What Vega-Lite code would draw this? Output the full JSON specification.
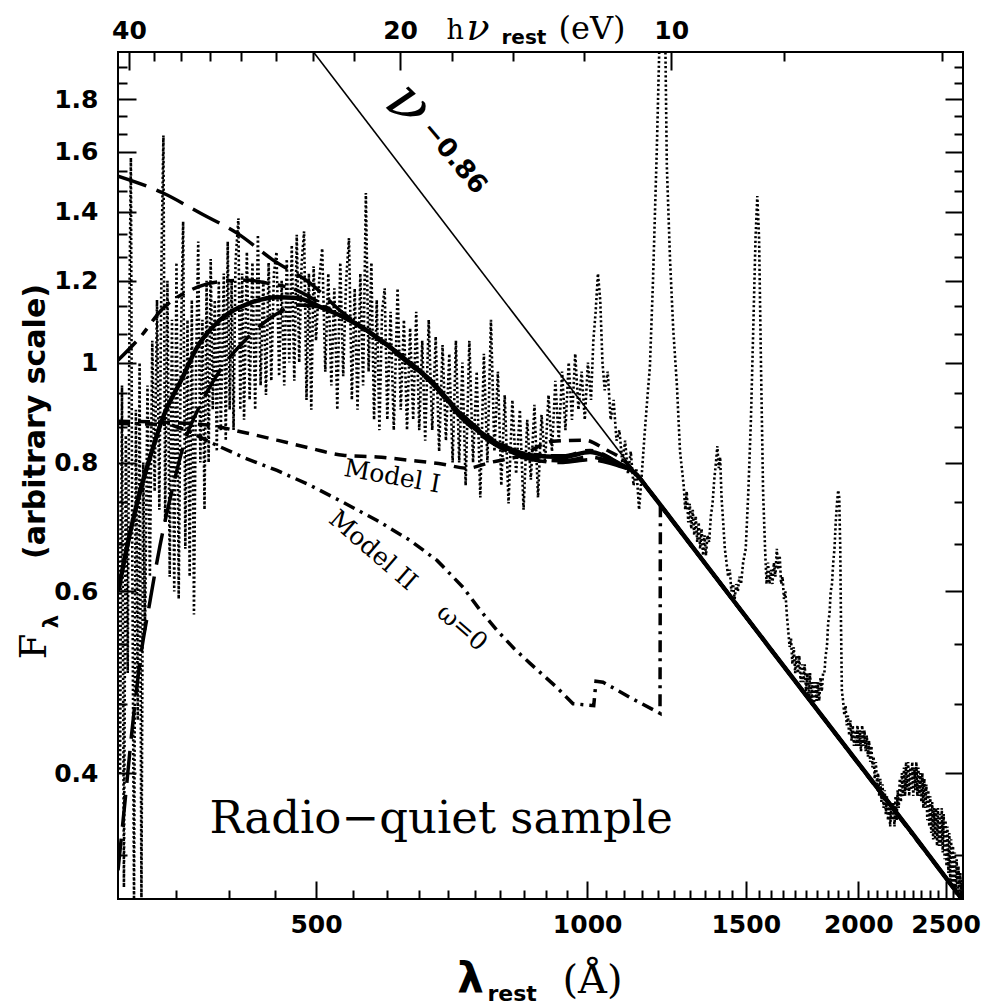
{
"$schema": "https://vega.github.io/schema/vega-lite/v6.json",
"width": 845, "height": 847,
"autosize": {"type": "none"},
"padding": {"left": 118, "top": 52, "right": 20, "bottom": 107},
"background": "white",
"config": {
  "view": {"stroke": "black", "strokeWidth": 2},
  "axis": {"grid": false, "domain": false, "tickColor": "black", "tickWidth": 2, "labelColor": "black", "titleColor": "black", "labelFont": "DejaVu Sans", "labelFontWeight": "bold", "labelFontSize": 25, "labelFlush": false, "labelOverlap": false}
},
"datasets": {
"obs": [
{"wl":301.5,"flux":0.75},{"wl":303,"flux":0.40},{"wl":304.5,"flux":0.95},{"wl":306,"flux":0.31},{"wl":307.5,"flux":0.85},{"wl":309,"flux":0.50},{"wl":310.5,"flux":1.20},{"wl":311.5,"flux":1.58},{"wl":312.5,"flux":0.70},{"wl":314,"flux":0.30},{"wl":315.5,"flux":0.90},{"wl":317,"flux":0.45},{"wl":318.5,"flux":1.00},{"wl":320,"flux":0.30},{"wl":321.5,"flux":0.80},{"wl":323,"flux":0.55},{"wl":325,"flux":0.95},{"wl":327,"flux":0.62},{"wl":329,"flux":1.05},
{"wl":331,"flux":0.75},{"wl":333,"flux":1.15},{"wl":335,"flux":0.72},{"wl":337,"flux":1.30},{"wl":338.5,"flux":1.66},{"wl":340,"flux":0.70},{"wl":342,"flux":1.20},{"wl":344,"flux":0.62},{"wl":346,"flux":1.10},{"wl":348,"flux":0.60},{"wl":350,"flux":1.25},{"wl":352,"flux":0.59},{"wl":354,"flux":1.05},{"wl":356,"flux":1.37},{"wl":358,"flux":0.66},{"wl":360,"flux":1.10},{"wl":362,"flux":0.62},{"wl":364,"flux":1.15},{"wl":366,"flux":0.57},{"wl":368,"flux":1.00},{"wl":370,"flux":1.31},{"wl":372,"flux":0.80},{"wl":374,"flux":1.10},{"wl":376,"flux":0.72},{"wl":378,"flux":1.20},{"wl":380,"flux":0.80},{"wl":382,"flux":1.26},{"wl":384,"flux":0.90},{"wl":386,"flux":1.15},{"wl":388,"flux":0.82},{"wl":390,"flux":1.20},{"wl":392,"flux":0.86},{"wl":395,"flux":1.22},{"wl":397,"flux":0.84},{"wl":399,"flux":1.31},{"wl":401,"flux":0.90},{"wl":403,"flux":1.20},{"wl":405,"flux":0.86},{"wl":407,"flux":1.25},{"wl":410,"flux":1.38},{"wl":412,"flux":0.90},{"wl":414,"flux":1.22},{"wl":416,"flux":0.88},{"wl":419,"flux":1.28},{"wl":422,"flux":0.92},{"wl":425,"flux":1.25},{"wl":428,"flux":0.90},{"wl":431,"flux":1.33},{"wl":434,"flux":0.95},{"wl":437,"flux":1.20},{"wl":440,"flux":0.93},{"wl":443,"flux":1.25},{"wl":446,"flux":0.96},{"wl":449,"flux":1.22},{"wl":452,"flux":1.28},{"wl":455,"flux":0.97},{"wl":458,"flux":1.20},{"wl":461,"flux":0.95},{"wl":464,"flux":1.26},{"wl":467,"flux":1.00},{"wl":470,"flux":1.30},{"wl":473,"flux":0.96},{"wl":476,"flux":1.33},{"wl":479,"flux":1.00},{"wl":482,"flux":1.25},{"wl":485,"flux":1.34},{"wl":488,"flux":0.92},{"wl":491,"flux":1.22},{"wl":494,"flux":0.90},{"wl":497,"flux":1.24},
{"wl":500,"flux":1.05},{"wl":504,"flux":1.20},{"wl":508,"flux":1.29},{"wl":512,"flux":0.98},{"wl":516,"flux":1.22},{"wl":520,"flux":0.95},{"wl":524,"flux":1.18},{"wl":528,"flux":0.90},{"wl":532,"flux":1.25},{"wl":536,"flux":0.97},{"wl":540,"flux":1.20},{"wl":544,"flux":1.32},{"wl":548,"flux":0.92},{"wl":552,"flux":1.18},{"wl":556,"flux":0.90},{"wl":560,"flux":1.22},{"wl":564,"flux":0.95},{"wl":568,"flux":1.46},{"wl":572,"flux":0.98},{"wl":576,"flux":1.25},{"wl":580,"flux":0.88},{"wl":584,"flux":1.15},{"wl":588,"flux":0.86},{"wl":592,"flux":1.12},{"wl":596,"flux":1.18},{"wl":600,"flux":0.88},{"wl":605,"flux":1.12},{"wl":610,"flux":0.86},{"wl":616,"flux":1.18},{"wl":621,"flux":0.90},{"wl":626,"flux":1.10},{"wl":631,"flux":0.86},{"wl":636,"flux":1.08},{"wl":641,"flux":0.88},{"wl":646,"flux":1.12},{"wl":651,"flux":0.86},{"wl":656,"flux":1.05},{"wl":661,"flux":0.84},{"wl":667,"flux":1.10},{"wl":673,"flux":0.86},{"wl":679,"flux":1.06},{"wl":685,"flux":0.82},{"wl":691,"flux":1.04},{"wl":697,"flux":0.84},{"wl":703,"flux":1.02},{"wl":709,"flux":0.80},{"wl":715,"flux":1.05},{"wl":721,"flux":0.80},{"wl":727,"flux":1.00},{"wl":733,"flux":0.76},{"wl":740,"flux":1.05},{"wl":747,"flux":0.80},{"wl":754,"flux":0.98},{"wl":761,"flux":0.74},{"wl":768,"flux":1.02},{"wl":775,"flux":0.80},{"wl":782,"flux":1.10},{"wl":789,"flux":0.82},{"wl":796,"flux":0.98},{"wl":803,"flux":0.76},{"wl":810,"flux":0.93},{"wl":818,"flux":0.73},{"wl":826,"flux":0.92},{"wl":834,"flux":0.78},{"wl":842,"flux":0.90},{"wl":850,"flux":0.72},{"wl":858,"flux":0.88},{"wl":866,"flux":0.77},{"wl":874,"flux":0.91},{"wl":882,"flux":0.74},{"wl":890,"flux":0.89},{"wl":898,"flux":0.80},{"wl":906,"flux":0.93},{"wl":914,"flux":0.82},{"wl":922,"flux":0.96},{"wl":930,"flux":0.84},{"wl":938,"flux":0.98},{"wl":946,"flux":0.86},{"wl":954,"flux":1.00},{"wl":962,"flux":0.88},{"wl":970,"flux":1.02},{"wl":978,"flux":0.90},{"wl":986,"flux":0.98},{"wl":994,"flux":0.88},
{"wl":1002,"flux":1.00},{"wl":1010,"flux":0.92},{"wl":1016,"flux":1.05},{"wl":1022,"flux":1.12},{"wl":1028,"flux":1.22},{"wl":1034,"flux":1.15},{"wl":1040,"flux":1.00},{"wl":1046,"flux":0.94},{"wl":1054,"flux":0.98},{"wl":1062,"flux":0.88},{"wl":1070,"flux":0.92},{"wl":1078,"flux":0.84},{"wl":1086,"flux":0.86},{"wl":1094,"flux":0.80},{"wl":1102,"flux":0.84},{"wl":1110,"flux":0.78},{"wl":1118,"flux":0.82},{"wl":1126,"flux":0.76},{"wl":1134,"flux":0.79},{"wl":1142,"flux":0.72},{"wl":1150,"flux":0.78},{"wl":1158,"flux":0.85},{"wl":1166,"flux":0.92},{"wl":1174,"flux":0.99},{"wl":1183,"flux":1.19},{"wl":1195,"flux":1.61},{"wl":1204,"flux":2.10},{"wl":1212,"flux":2.50},{"wl":1220,"flux":2.20},{"wl":1226,"flux":1.55},{"wl":1236,"flux":1.26},{"wl":1246,"flux":1.08},{"wl":1258,"flux":0.95},{"wl":1268,"flux":0.82},
{"wl":1280,"flux":0.76},{"wl":1285,"flux":0.72},{"wl":1290,"flux":0.75},{"wl":1295,"flux":0.70},{"wl":1300,"flux":0.73},{"wl":1305,"flux":0.69},{"wl":1310,"flux":0.72},{"wl":1315,"flux":0.68},{"wl":1320,"flux":0.71},{"wl":1325,"flux":0.67},{"wl":1330,"flux":0.70},{"wl":1335,"flux":0.66},{"wl":1340,"flux":0.69},{"wl":1345,"flux":0.65},{"wl":1350,"flux":0.68},{"wl":1355,"flux":0.65},{"wl":1360,"flux":0.68},{"wl":1366,"flux":0.67},{"wl":1372,"flux":0.71},{"wl":1378,"flux":0.73},{"wl":1384,"flux":0.77},{"wl":1390,"flux":0.80},{"wl":1395,"flux":0.83},{"wl":1400,"flux":0.79},{"wl":1405,"flux":0.81},{"wl":1410,"flux":0.74},{"wl":1416,"flux":0.70},{"wl":1422,"flux":0.66},{"wl":1428,"flux":0.64},{"wl":1434,"flux":0.62},{"wl":1440,"flux":0.63},{"wl":1446,"flux":0.60},{"wl":1452,"flux":0.61},{"wl":1458,"flux":0.59},{"wl":1464,"flux":0.61},{"wl":1470,"flux":0.60},{"wl":1476,"flux":0.62},{"wl":1482,"flux":0.61},{"wl":1490,"flux":0.64},{"wl":1500,"flux":0.66},{"wl":1510,"flux":0.75},{"wl":1520,"flux":0.88},{"wl":1530,"flux":1.10},{"wl":1538,"flux":1.32},{"wl":1545,"flux":1.45},{"wl":1552,"flux":1.32},{"wl":1560,"flux":0.98},{"wl":1568,"flux":0.75},{"wl":1576,"flux":0.66},{"wl":1582,"flux":0.61},{"wl":1588,"flux":0.64},{"wl":1594,"flux":0.61},{"wl":1600,"flux":0.63},{"wl":1606,"flux":0.61},{"wl":1612,"flux":0.64},{"wl":1618,"flux":0.62},{"wl":1624,"flux":0.66},{"wl":1630,"flux":0.63},{"wl":1636,"flux":0.65},{"wl":1642,"flux":0.61},{"wl":1648,"flux":0.62},{"wl":1654,"flux":0.59},{"wl":1660,"flux":0.60},{"wl":1666,"flux":0.57},{"wl":1672,"flux":0.55},{"wl":1678,"flux":0.53},{"wl":1684,"flux":0.54},{"wl":1690,"flux":0.51},{"wl":1696,"flux":0.53},{"wl":1702,"flux":0.50},{"wl":1708,"flux":0.52},{"wl":1714,"flux":0.50},{"wl":1720,"flux":0.52},{"wl":1726,"flux":0.49},{"wl":1732,"flux":0.51},{"wl":1738,"flux":0.49},{"wl":1744,"flux":0.51},{"wl":1750,"flux":0.48},{"wl":1756,"flux":0.50},{"wl":1762,"flux":0.47},{"wl":1768,"flux":0.50},{"wl":1774,"flux":0.47},{"wl":1780,"flux":0.49},{"wl":1786,"flux":0.465},{"wl":1792,"flux":0.49},{"wl":1798,"flux":0.47},{"wl":1804,"flux":0.49},{"wl":1810,"flux":0.47},{"wl":1816,"flux":0.495},{"wl":1822,"flux":0.48},{"wl":1828,"flux":0.50},{"wl":1834,"flux":0.50},{"wl":1840,"flux":0.52},{"wl":1846,"flux":0.53},{"wl":1852,"flux":0.56},{"wl":1858,"flux":0.57},{"wl":1864,"flux":0.60},{"wl":1870,"flux":0.61},{"wl":1876,"flux":0.64},{"wl":1882,"flux":0.66},{"wl":1888,"flux":0.70},{"wl":1894,"flux":0.73},{"wl":1900,"flux":0.752},{"wl":1905,"flux":0.74},{"wl":1910,"flux":0.66},{"wl":1914,"flux":0.55},{"wl":1918,"flux":0.48},{"wl":1924,"flux":0.47},{"wl":1930,"flux":0.455},{"wl":1936,"flux":0.465},{"wl":1942,"flux":0.445},{"wl":1948,"flux":0.455},{"wl":1954,"flux":0.435},{"wl":1960,"flux":0.45},{"wl":1966,"flux":0.43},{"wl":1972,"flux":0.445},{"wl":1978,"flux":0.425},{"wl":1984,"flux":0.44},{"wl":1990,"flux":0.425},{"wl":1996,"flux":0.445},{"wl":2002,"flux":0.425},{"wl":2008,"flux":0.44},{"wl":2014,"flux":0.42},{"wl":2020,"flux":0.445},{"wl":2026,"flux":0.425},{"wl":2032,"flux":0.44},{"wl":2038,"flux":0.42},{"wl":2044,"flux":0.435},{"wl":2050,"flux":0.415},{"wl":2056,"flux":0.43},{"wl":2062,"flux":0.41},{"wl":2068,"flux":0.425},{"wl":2074,"flux":0.405},{"wl":2080,"flux":0.415},{"wl":2086,"flux":0.395},{"wl":2092,"flux":0.41},{"wl":2098,"flux":0.39},{"wl":2104,"flux":0.40},{"wl":2110,"flux":0.38},{"wl":2116,"flux":0.395},{"wl":2122,"flux":0.375},{"wl":2128,"flux":0.39},{"wl":2134,"flux":0.37},{"wl":2140,"flux":0.385},{"wl":2146,"flux":0.365},{"wl":2152,"flux":0.38},{"wl":2158,"flux":0.36},{"wl":2164,"flux":0.375},{"wl":2170,"flux":0.355},{"wl":2176,"flux":0.37},{"wl":2182,"flux":0.36},{"wl":2188,"flux":0.375},{"wl":2194,"flux":0.355},{"wl":2200,"flux":0.38},{"wl":2206,"flux":0.36},{"wl":2212,"flux":0.385},{"wl":2218,"flux":0.37},{"wl":2224,"flux":0.395},{"wl":2230,"flux":0.375},{"wl":2236,"flux":0.40},{"wl":2242,"flux":0.38},{"wl":2248,"flux":0.405},{"wl":2254,"flux":0.38},{"wl":2260,"flux":0.41},{"wl":2266,"flux":0.385},{"wl":2272,"flux":0.41},{"wl":2278,"flux":0.38},{"wl":2284,"flux":0.405},{"wl":2290,"flux":0.385},{"wl":2296,"flux":0.41},{"wl":2302,"flux":0.38},{"wl":2308,"flux":0.405},{"wl":2314,"flux":0.385},{"wl":2320,"flux":0.41},{"wl":2326,"flux":0.38},{"wl":2332,"flux":0.405},{"wl":2338,"flux":0.38},{"wl":2344,"flux":0.40},{"wl":2350,"flux":0.375},{"wl":2356,"flux":0.40},{"wl":2362,"flux":0.37},{"wl":2368,"flux":0.395},{"wl":2374,"flux":0.37},{"wl":2380,"flux":0.39},{"wl":2386,"flux":0.36},{"wl":2392,"flux":0.385},{"wl":2398,"flux":0.355},{"wl":2404,"flux":0.38},{"wl":2410,"flux":0.35},{"wl":2416,"flux":0.375},{"wl":2422,"flux":0.345},{"wl":2428,"flux":0.37},{"wl":2434,"flux":0.345},{"wl":2440,"flux":0.37},{"wl":2446,"flux":0.34},{"wl":2452,"flux":0.37},{"wl":2458,"flux":0.34},{"wl":2464,"flux":0.365},{"wl":2470,"flux":0.34},{"wl":2476,"flux":0.37},{"wl":2482,"flux":0.335},{"wl":2488,"flux":0.365},{"wl":2494,"flux":0.33},{"wl":2500,"flux":0.36},{"wl":2506,"flux":0.325},{"wl":2512,"flux":0.355},{"wl":2518,"flux":0.32},{"wl":2524,"flux":0.35},{"wl":2530,"flux":0.315},{"wl":2536,"flux":0.345},{"wl":2542,"flux":0.31},{"wl":2548,"flux":0.34},{"wl":2554,"flux":0.31},{"wl":2560,"flux":0.335},{"wl":2566,"flux":0.305},{"wl":2572,"flux":0.33},{"wl":2578,"flux":0.305},{"wl":2584,"flux":0.325},{"wl":2590,"flux":0.30},{"wl":2596,"flux":0.32},{"wl":2602,"flux":0.30},{"wl":2608,"flux":0.315},{"wl":2613,"flux":0.30}
],
"fit": [
{"wl":301.4,"flux":0.600},{"wl":306,"flux":0.64},{"wl":311,"flux":0.685},{"wl":318.9,"flux":0.75},{"wl":327.2,"flux":0.81},{"wl":338.2,"flux":0.885},{"wl":355.0,"flux":0.965},{"wl":369.0,"flux":1.035},{"wl":391.3,"flux":1.10},{"wl":422.4,"flux":1.142},{"wl":452.6,"flux":1.157},{"wl":476.3,"flux":1.155},{"wl":509.1,"flux":1.129},{"wl":545.5,"flux":1.099},{"wl":584.5,"flux":1.058},{"wl":635.8,"flux":0.999},{"wl":669.2,"flux":0.962},{"wl":728.2,"flux":0.886},{"wl":794.3,"flux":0.835},{"wl":864.3,"flux":0.813},{"wl":940.3,"flux":0.810},{"wl":1007.5,"flux":0.819},{"wl":1041.5,"flux":0.813},{"wl":1079.5,"flux":0.800},{"wl":1136,"flux":0.778},{"wl":1170,"flux":0.753},{"wl":1300,"flux":0.668},{"wl":1600,"flux":0.527},{"wl":2000,"flux":0.409},{"wl":2300,"flux":0.349},{"wl":2614,"flux":0.301}
],
"dashU": [
{"wl":301.4,"flux":1.516},{"wl":338.2,"flux":1.46},{"wl":371.8,"flux":1.396},{"wl":408.6,"flux":1.335},{"wl":448.1,"flux":1.257},{"wl":492.5,"flux":1.194},{"wl":535.8,"flux":1.117},{"wl":560,"flux":1.085},{"wl":584.5,"flux":1.055},{"wl":635.8,"flux":0.995},{"wl":669.2,"flux":0.958},{"wl":728.2,"flux":0.88},{"wl":794.3,"flux":0.83},{"wl":864.3,"flux":0.806},{"wl":940.3,"flux":0.80},{"wl":1007.5,"flux":0.805},{"wl":1041.5,"flux":0.802},{"wl":1079.5,"flux":0.795},{"wl":1136,"flux":0.778},{"wl":1170,"flux":0.753},{"wl":1300,"flux":0.668},{"wl":1600,"flux":0.527},{"wl":2000,"flux":0.409},{"wl":2300,"flux":0.349},{"wl":2614,"flux":0.301}
],
"dashD": [
{"wl":301.4,"flux":1.005},{"wl":318.9,"flux":1.058},{"wl":338.2,"flux":1.129},{"wl":362.4,"flux":1.175},{"wl":388.3,"flux":1.197},{"wl":419.2,"flux":1.202},{"wl":441.2,"flux":1.194},{"wl":476.3,"flux":1.175},{"wl":505.2,"flux":1.142},{"wl":530,"flux":1.112},{"wl":545.5,"flux":1.099},{"wl":584.5,"flux":1.058},{"wl":635.8,"flux":1.0},{"wl":669.2,"flux":0.963},{"wl":728.2,"flux":0.889},{"wl":794.3,"flux":0.838},{"wl":864.3,"flux":0.815},{"wl":940.3,"flux":0.812},{"wl":1007.5,"flux":0.822},{"wl":1041.5,"flux":0.815},{"wl":1079.5,"flux":0.80},{"wl":1136,"flux":0.778},{"wl":1170,"flux":0.753},{"wl":1300,"flux":0.668},{"wl":1600,"flux":0.527},{"wl":2000,"flux":0.409},{"wl":2300,"flux":0.349},{"wl":2614,"flux":0.301}
],
"dashL": [
{"wl":301.4,"flux":0.322},{"wl":306.9,"flux":0.376},{"wl":312.4,"flux":0.44},{"wl":318.9,"flux":0.514},{"wl":327.2,"flux":0.588},{"wl":335.6,"flux":0.665},{"wl":346.1,"flux":0.752},{"wl":357.8,"flux":0.841},{"wl":371.8,"flux":0.909},{"wl":391.3,"flux":0.983},{"wl":417.1,"flux":1.051},{"wl":444.5,"flux":1.104},{"wl":480,"flux":1.137},{"wl":509.1,"flux":1.13},{"wl":545.5,"flux":1.097},{"wl":584.5,"flux":1.056},{"wl":635.8,"flux":0.997},{"wl":669.2,"flux":0.96},{"wl":728.2,"flux":0.883},{"wl":794.3,"flux":0.832},{"wl":864.3,"flux":0.808},{"wl":940.3,"flux":0.803},{"wl":1007.5,"flux":0.81},{"wl":1041.5,"flux":0.806},{"wl":1079.5,"flux":0.797},{"wl":1136,"flux":0.778},{"wl":1170,"flux":0.753},{"wl":1300,"flux":0.668},{"wl":1600,"flux":0.527},{"wl":2000,"flux":0.409},{"wl":2300,"flux":0.349},{"wl":2614,"flux":0.301}
],
"m1": [
{"wl":301.4,"flux":0.877},{"wl":340,"flux":0.875},{"wl":381.4,"flux":0.869},{"wl":414.9,"flux":0.856},{"wl":452.6,"flux":0.841},{"wl":492.5,"flux":0.826},{"wl":535.8,"flux":0.813},{"wl":584.5,"flux":0.81},{"wl":635.8,"flux":0.804},{"wl":691.9,"flux":0.797},{"wl":735.6,"flux":0.79},{"wl":780.2,"flux":0.80},{"wl":842.5,"flux":0.812},{"wl":916.6,"flux":0.839},{"wl":994.7,"flux":0.841},{"wl":1046.9,"flux":0.824},{"wl":1096,"flux":0.805},{"wl":1136,"flux":0.778},{"wl":1170,"flux":0.753},{"wl":1300,"flux":0.668},{"wl":1600,"flux":0.527},{"wl":2000,"flux":0.409},{"wl":2300,"flux":0.349},{"wl":2614,"flux":0.301}
],
"m2": [
{"wl":301.4,"flux":0.873},{"wl":344.4,"flux":0.871},{"wl":362,"flux":0.857},{"wl":381.4,"flux":0.837},{"wl":414.9,"flux":0.8095},{"wl":452.6,"flux":0.786},{"wl":492.5,"flux":0.7605},{"wl":535.8,"flux":0.732},{"wl":584.5,"flux":0.703},{"wl":635.8,"flux":0.6725},{"wl":681.3,"flux":0.643},{"wl":728.2,"flux":0.6055},{"wl":760,"flux":0.576},{"wl":794.3,"flux":0.55},{"wl":830,"flux":0.528},{"wl":864.3,"flux":0.511},{"wl":926,"flux":0.484},{"wl":964.6,"flux":0.467},{"wl":1017,"flux":0.465},{"wl":1023,"flux":0.491},{"wl":1041.5,"flux":0.49},{"wl":1115.9,"flux":0.4735},{"wl":1204.8,"flux":0.457},{"wl":1206,"flux":0.727},{"wl":2614,"flux":0.301}
],
"pl": [{"wl":480,"flux":2.08},{"wl":2614,"flux":0.301}]
},
"resolve": {"axis": {"x": "independent", "y": "independent"}},
"layer": [
{
 "data": {"name": "obs"},
 "mark": {"type": "line", "clip": true, "color": "black", "strokeWidth": 2.6, "strokeDash": [2.2, 2.4]},
 "encoding": {
  "x": {"field": "wl", "type": "quantitative", "scale": {"type": "log", "domain": [301.4, 2614], "nice": false},
        "axis": {"orient": "bottom", "values": [500, 1000, 1500, 2000, 2500], "format": "d", "tickSize": -18, "labelPadding": 31, "title": null}},
  "y": {"field": "flux", "type": "quantitative", "scale": {"type": "log", "domain": [0.302, 2.0], "nice": false},
        "axis": {"orient": "left", "values": [0.4, 0.6, 0.8, 1, 1.2, 1.4, 1.6, 1.8], "format": "~g", "tickSize": -18, "labelPadding": 38, "title": null}}
 }
},
{
 "data": {"name": "pl"},
 "mark": {"type": "line", "clip": true, "color": "black", "strokeWidth": 1.6},
 "encoding": {
  "x": {"field": "wl", "type": "quantitative", "scale": {"type": "log", "domain": [301.4, 2614], "nice": false},
        "axis": {"orient": "top", "ticks": false, "labels": false, "title": "h", "titleX": 328, "titleY": -14, "titleAlign": "left", "titleBaseline": "alphabetic", "titleFont": "DejaVu Serif", "titleFontWeight": "normal", "titleFontSize": 27, "titleAngle": 0}},
  "y": {"field": "flux", "type": "quantitative", "scale": {"type": "log", "domain": [0.302, 2.0], "nice": false}, "axis": null}
 }
},
{
 "data": {"name": "m1"},
 "mark": {"type": "line", "clip": true, "color": "black", "strokeWidth": 3.5, "strokeDash": [12, 8], "interpolate": "monotone"},
 "encoding": {
  "x": {"field": "wl", "type": "quantitative", "scale": {"type": "log", "domain": [301.4, 2614], "nice": false},
        "axis": {"orient": "bottom", "ticks": false, "labels": false, "title": "rest", "titleX": 369, "titleY": 101, "titleAlign": "left", "titleBaseline": "alphabetic", "titleFont": "DejaVu Sans", "titleFontWeight": "bold", "titleFontSize": 22, "titleAngle": 0}},
  "y": {"field": "flux", "type": "quantitative", "scale": {"type": "log", "domain": [0.302, 2.0], "nice": false},
        "axis": {"orient": "left", "ticks": false, "labels": false, "title": "λ", "titleX": -61, "titleY": 569, "titleAlign": "center", "titleBaseline": "alphabetic", "titleFont": "DejaVu Sans", "titleFontWeight": "bold", "titleFontSize": 21, "titleAngle": 270}}
 }
},
{
 "data": {"name": "m2"},
 "mark": {"type": "line", "clip": true, "color": "black", "strokeWidth": 3.5, "strokeDash": [12, 6, 3, 6]},
 "encoding": {
  "x": {"field": "wl", "type": "quantitative", "scale": {"type": "log", "domain": [301.4, 2614], "nice": false},
        "axis": {"orient": "bottom", "ticks": false, "labels": false, "title": "(Å)", "titleX": 444, "titleY": 93, "titleAlign": "left", "titleBaseline": "alphabetic", "titleFont": "DejaVu Serif", "titleFontWeight": "normal", "titleFontSize": 40, "titleAngle": 0}},
  "y": {"field": "flux", "type": "quantitative", "scale": {"type": "log", "domain": [0.302, 2.0], "nice": false},
        "axis": {"orient": "left", "ticks": false, "labels": false, "title": "(arbitrary scale)", "titleX": -74, "titleY": 369, "titleAlign": "center", "titleBaseline": "alphabetic", "titleFont": "DejaVu Sans", "titleFontWeight": "bold", "titleFontSize": 30, "titleAngle": 270}}
 }
},
{
 "data": {"name": "dashU"},
 "mark": {"type": "line", "clip": true, "color": "black", "strokeWidth": 3.5, "strokeDash": [30, 11], "interpolate": "monotone"},
 "encoding": {
  "x": {"field": "wl", "type": "quantitative", "scale": {"type": "log", "domain": [301.4, 2614], "nice": false},
        "axis": {"orient": "top", "values": [309.96, 619.92, 1239.84], "labelExpr": "datum.value < 400 ? '40' : (datum.value < 900 ? '20' : '10')", "tickSize": -18, "labelPadding": 27, "title": null}},
  "y": {"field": "flux", "type": "quantitative", "scale": {"type": "log", "domain": [0.302, 2.0], "nice": false},
        "axis": {"orient": "right", "values": [0.4, 0.6, 0.8, 1, 1.2, 1.4, 1.6, 1.8], "tickSize": -18, "labels": false, "title": null}}
 }
},
{
 "data": {"name": "dashD"},
 "mark": {"type": "line", "clip": true, "color": "black", "strokeWidth": 3.5, "strokeDash": [26, 9, 8, 9], "interpolate": "monotone"},
 "encoding": {
  "x": {"field": "wl", "type": "quantitative", "scale": {"type": "log", "domain": [301.4, 2614], "nice": false},
        "axis": {"orient": "top", "values": [330.62, 354.24, 381.49, 413.28, 450.85, 495.94, 551.04, 708.48, 826.56, 991.87, 1653.12, 2479.68], "tickSize": -9, "labels": false, "title": null}},
  "y": {"field": "flux", "type": "quantitative", "scale": {"type": "log", "domain": [0.302, 2.0], "nice": false},
        "axis": {"orient": "right", "values": [0.3333, 0.4667, 0.5333, 0.6667, 0.7333, 0.8667, 0.9333, 1.0667, 1.1333, 1.2667, 1.3333, 1.4667, 1.5333, 1.6667, 1.7333, 1.8667, 1.9333], "tickSize": -9, "labels": false, "title": null}}
 }
},
{
 "data": {"name": "dashL"},
 "mark": {"type": "line", "clip": true, "color": "black", "strokeWidth": 3.5, "strokeDash": [32, 12], "interpolate": "monotone"},
 "encoding": {
  "x": {"field": "wl", "type": "quantitative", "scale": {"type": "log", "domain": [301.4, 2614], "nice": false},
        "axis": {"orient": "bottom", "ticks": false, "labels": false, "title": "λ", "titleX": 352, "titleY": 93, "titleAlign": "center", "titleBaseline": "alphabetic", "titleFont": "DejaVu Sans", "titleFontWeight": "bold", "titleFontSize": 42, "titleAngle": 0}},
  "y": {"field": "flux", "type": "quantitative", "scale": {"type": "log", "domain": [0.302, 2.0], "nice": false},
        "axis": {"orient": "left", "ticks": false, "labels": false, "title": "F", "titleX": -73, "titleY": 594, "titleAlign": "center", "titleBaseline": "alphabetic", "titleFont": "DejaVu Serif", "titleFontWeight": "normal", "titleFontSize": 37, "titleAngle": 270}}
 }
},
{
 "data": {"name": "fit"},
 "mark": {"type": "line", "clip": true, "color": "black", "strokeWidth": 4.5, "strokeJoin": "round", "interpolate": "monotone"},
 "encoding": {
  "x": {"field": "wl", "type": "quantitative", "scale": {"type": "log", "domain": [301.4, 2614], "nice": false},
        "axis": {"orient": "bottom", "values": [350, 400, 450, 550, 600, 650, 700, 750, 800, 850, 900, 950, 1050, 1100, 1150, 1200, 1250, 1300, 1350, 1400, 1450, 1550, 1600, 1650, 1700, 1750, 1800, 1850, 1900, 1950, 2050, 2100, 2150, 2200, 2250, 2300, 2350, 2400, 2450, 2550, 2600], "tickSize": -9, "labels": false, "title": null}},
  "y": {"field": "flux", "type": "quantitative", "scale": {"type": "log", "domain": [0.302, 2.0], "nice": false},
        "axis": {"orient": "left", "values": [0.3333, 0.4667, 0.5333, 0.6667, 0.7333, 0.8667, 0.9333, 1.0667, 1.1333, 1.2667, 1.3333, 1.4667, 1.5333, 1.6667, 1.7333, 1.8667, 1.9333], "tickSize": -9, "labels": false, "title": null}}
 }
},
{
 "data": {"values": [{"wl": 688.4, "flux": 0.3496, "label": "Radio−quiet sample"}]},
 "mark": {"type": "text", "font": "DejaVu Serif", "fontSize": 45, "align": "center", "baseline": "alphabetic", "color": "black"},
 "encoding": {
  "x": {"field": "wl", "type": "quantitative", "scale": {"type": "log", "domain": [301.4, 2614], "nice": false},
        "axis": {"orient": "top", "ticks": false, "labels": false, "title": "ν", "titleX": 348, "titleY": -13, "titleAlign": "left", "titleBaseline": "alphabetic", "titleFont": "DejaVu Serif", "titleFontStyle": "italic", "titleFontWeight": "normal", "titleFontSize": 38, "titleAngle": 0}},
  "y": {"field": "flux", "type": "quantitative", "scale": {"type": "log", "domain": [0.302, 2.0], "nice": false}, "axis": null},
  "text": {"field": "label"}
 }
},
{
 "data": {"values": [{"wl": 607.6, "flux": 0.7757, "label": "Model I"}]},
 "mark": {"type": "text", "font": "DejaVu Serif", "fontSize": 25, "align": "center", "baseline": "middle", "angle": 10, "color": "black"},
 "encoding": {
  "x": {"field": "wl", "type": "quantitative", "scale": {"type": "log", "domain": [301.4, 2614], "nice": false},
        "axis": {"orient": "top", "ticks": false, "labels": false, "title": "rest", "titleX": 383, "titleY": -9, "titleAlign": "left", "titleBaseline": "alphabetic", "titleFont": "DejaVu Sans", "titleFontWeight": "bold", "titleFontSize": 20, "titleAngle": 0}},
  "y": {"field": "flux", "type": "quantitative", "scale": {"type": "log", "domain": [0.302, 2.0], "nice": false}, "axis": null},
  "text": {"field": "label"}
 }
},
{
 "data": {"values": [{"wl": 578.6, "flux": 0.6577, "label": "Model II"}]},
 "mark": {"type": "text", "font": "DejaVu Serif", "fontSize": 25, "align": "center", "baseline": "middle", "angle": 41, "color": "black"},
 "encoding": {
  "x": {"field": "wl", "type": "quantitative", "scale": {"type": "log", "domain": [301.4, 2614], "nice": false},
        "axis": {"orient": "top", "ticks": false, "labels": false, "title": "(eV)", "titleX": 440, "titleY": -14, "titleAlign": "left", "titleBaseline": "alphabetic", "titleFont": "DejaVu Serif", "titleFontWeight": "normal", "titleFontSize": 32, "titleAngle": 0}},
  "y": {"field": "flux", "type": "quantitative", "scale": {"type": "log", "domain": [0.302, 2.0], "nice": false}, "axis": null},
  "text": {"field": "label"}
 }
},
{
 "data": {"values": [{"wl": 726.3, "flux": 0.5537, "label": "ω=0"}]},
 "mark": {"type": "text", "font": "DejaVu Serif", "fontSize": 25, "align": "center", "baseline": "middle", "angle": 41, "color": "black"},
 "encoding": {
  "x": {"field": "wl", "type": "quantitative", "scale": {"type": "log", "domain": [301.4, 2614], "nice": false}, "axis": null},
  "y": {"field": "flux", "type": "quantitative", "scale": {"type": "log", "domain": [0.302, 2.0], "nice": false}, "axis": null},
  "text": {"field": "label"}
 }
},
{
 "data": {"values": [{"wl": 633, "flux": 1.777, "label": "ν"}]},
 "mark": {"type": "text", "font": "DejaVu Serif", "fontStyle": "italic", "fontSize": 60, "align": "center", "baseline": "middle", "angle": 45, "color": "black"},
 "encoding": {
  "x": {"field": "wl", "type": "quantitative", "scale": {"type": "log", "domain": [301.4, 2614], "nice": false}, "axis": null},
  "y": {"field": "flux", "type": "quantitative", "scale": {"type": "log", "domain": [0.302, 2.0], "nice": false}, "axis": null},
  "text": {"field": "label"}
 }
},
{
 "data": {"values": [{"wl": 712, "flux": 1.58, "label": "−0.86"}]},
 "mark": {"type": "text", "font": "DejaVu Sans", "fontWeight": "bold", "fontSize": 26, "align": "center", "baseline": "middle", "angle": 50, "color": "black"},
 "encoding": {
  "x": {"field": "wl", "type": "quantitative", "scale": {"type": "log", "domain": [301.4, 2614], "nice": false}, "axis": null},
  "y": {"field": "flux", "type": "quantitative", "scale": {"type": "log", "domain": [0.302, 2.0], "nice": false}, "axis": null},
  "text": {"field": "label"}
 }
}
]
}
